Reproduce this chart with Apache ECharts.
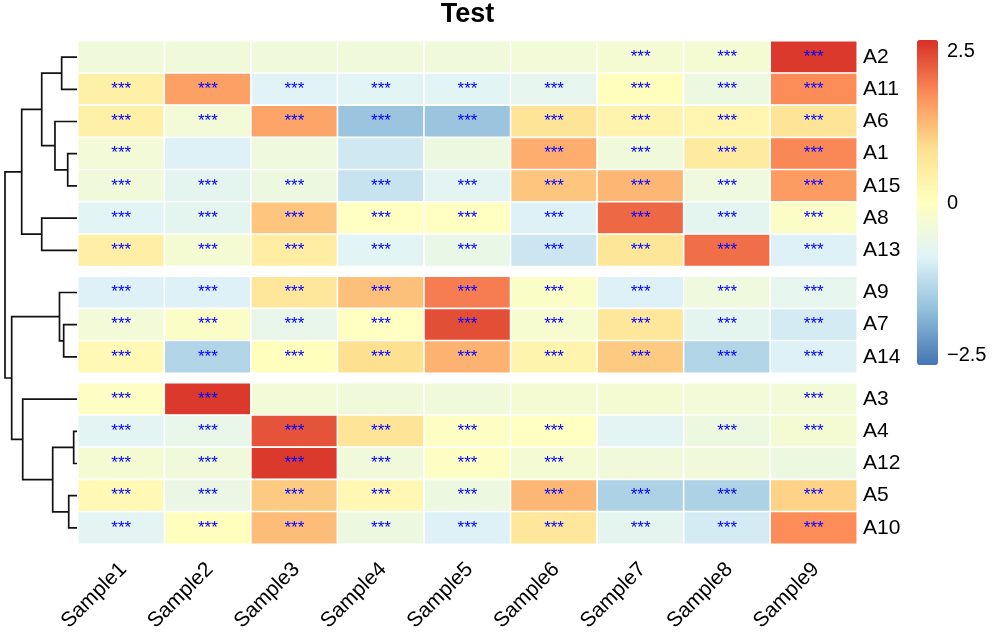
<!DOCTYPE html>
<html>
<head>
<meta charset="utf-8">
<script src="https://cdn.jsdelivr.net/npm/echarts@6/dist/echarts.min.js"></script>
<style>
html,body{margin:0;padding:0;background:#fff;}
#chart{width:999px;height:636px;}
</style>
</head>
<body>
<div id="chart"></div>
<script>
// ---------- data ----------
const samples = ['Sample1','Sample2','Sample3','Sample4','Sample5','Sample6','Sample7','Sample8','Sample9'];
const rowLabels = ['A2','A11','A6','A1','A15','A8','A13','A9','A7','A14','A3','A4','A12','A5','A10'];
const groupSizes = [7, 3, 5];
const values = [
  [-0.4, -0.4, -0.4, -0.4, -0.4, -0.35, -0.3, -0.3, 2.6],   // A2
  [0.45, 1.6, -0.85, -0.8, -0.8, -0.7, 0.05, -0.5, 1.8],    // A11
  [0.45, -0.35, 1.55, -1.65, -1.65, 0.8, 0.35, 0.3, 0.8],   // A6
  [-0.35, -0.9, -0.45, -1.05, -0.5, 1.45, -0.4, 0.6, 1.85], // A1
  [-0.4, -0.75, -0.5, -1.15, -0.78, 1.2, 1.35, -0.45, 1.65],// A15
  [-0.8, -0.75, 1.2, 0, 0, -0.9, 2.15, -0.75, -0.1],        // A8
  [0.5, -0.3, 0.55, -0.8, -0.6, -1.1, 0.75, 2.1, -0.9],     // A13
  [-0.9, -0.9, 0.7, 1.25, 1.95, -0.1, -0.9, -0.45, -0.7],   // A9
  [-0.35, -0.1, -0.65, 0, 2.4, -0.25, 0.7, -0.75, -1.0],    // A7
  [0.2, -1.4, 0.05, 0.9, 1.4, 0.35, 1.15, -1.4, -0.9],      // A14
  [-0.05, 2.6, -0.35, -0.4, -0.4, -0.3, -0.3, -0.35, -0.35],// A3
  [-0.78, -0.65, 2.35, 0.8, -0.05, 0, -0.78, -0.5, -0.3],   // A4
  [-0.3, -0.4, 2.6, -0.4, -0.05, -0.3, -0.4, -0.4, -0.5],   // A12
  [0.2, -0.55, 1.15, 0.25, -0.5, 1.35, -1.45, -1.45, 1.05], // A5
  [-0.78, 0.05, 1.3, -0.5, -0.9, 0.7, -0.75, -1.0, 1.8]     // A10
];
// significance marks ('1' = ***)
const stars = [
  '000000111', '111111111', '111111111', '100001111', '111111111',
  '111111111', '111111111', '111111111', '111111111', '111111111',
  '110000001', '111111011', '111111000', '111111111', '111111111'
];
// row dendrogram merges: [childA, childB, height]; 'nK' refers to merge K
const dendroMerges = [
  ['A2', 'A11', 2.13],
  ['A1', 'A15', 1.29],
  ['A6', 'n1', 3.06],
  ['n0', 'n2', 4.9],
  ['A8', 'A13', 4.9],
  ['n3', 'n4', 7.68],
  ['A7', 'A14', 1.85],
  ['A9', 'n6', 2.43],
  ['A4', 'A12', 0.46],
  ['A5', 'A10', 1.15],
  ['n8', 'n9', 3.375],
  ['A3', 'n10', 7.54],
  ['n7', 'n11', 9.07],
  ['n5', 'n12', 10]
];
const legendTicks = [-2.5, 0, 2.5];
const colorMin = -2.65, colorMax = 2.69;
const palette = ['#4575B4', '#91BFDB', '#E0F3F8', '#FFFFBF', '#FEE090', '#FC8D59', '#D73027'];

// ---------- layout ----------
const FONT = 'Liberation Sans, Arial, Helvetica, sans-serif';
const HM_LEFT = 78, HM_WIDTH = 779, HM_TOP = 41, GAP = 10;
const ROW_H = (503 - GAP * (groupSizes.length - 1)) / rowLabels.length;

const grids = [], xAxes = [], yAxes = [], series = [];
let rowStart = 0;
let curTop = HM_TOP;
const leafY = {};
groupSizes.forEach((n, g) => {
  const rows = rowLabels.slice(rowStart, rowStart + n);
  rows.forEach((r, i) => { leafY[r] = rowStart + i + 0.5 + g * GAP / ROW_H; });
  grids.push({ left: HM_LEFT, top: curTop, width: HM_WIDTH, height: n * ROW_H });
  const isLast = g === groupSizes.length - 1;
  xAxes.push({
    gridIndex: g, type: 'category', data: samples,
    axisLine: { show: false }, axisTick: { show: false }, splitLine: { show: false },
    axisLabel: isLast ? {
      show: true, interval: 0, rotate: 45, fontSize: 21, color: '#000', fontFamily: FONT,
      margin: 20, verticalAlign: 'top', lineHeight: 6
    } : { show: false }
  });
  yAxes.push({
    gridIndex: g, type: 'category', data: rows, inverse: true, position: 'right',
    axisLine: { show: false }, axisTick: { show: false }, splitLine: { show: false },
    axisLabel: { fontSize: 21, color: '#000', margin: 6, fontFamily: FONT }
  });
  const data = [];
  rows.forEach((r, i) => {
    const k = rowStart + i;
    samples.forEach((s, j) => {
      data.push([j, i, values[k][j], stars[k][j] === '1' ? 1 : 0]);
    });
  });
  series.push({
    type: 'heatmap', xAxisIndex: g, yAxisIndex: g, data: data,
    itemStyle: { borderColor: '#fff', borderWidth: 1.6 },
    label: {
      show: true, color: '#0000FF', fontSize: 17, fontFamily: FONT,
      formatter: p => (p.data[3] ? '***' : '')
    },
    emphasis: { disabled: true }
  });
  rowStart += n;
  curTop += n * ROW_H + GAP;
});

// dendrogram node positions
const nodes = [];
function childPos(c) {
  if (c[0] === 'n') { const nd = nodes[+c.slice(1)]; return { h: nd.h, y: nd.y }; }
  return { h: 0, y: leafY[c] };
}
dendroMerges.forEach(m => {
  const a = childPos(m[0]), b = childPos(m[1]);
  nodes.push({ a: a, b: b, h: m[2], y: (a.y + b.y) / 2 });
});
const totalUnits = rowLabels.length + (groupSizes.length - 1) * GAP / ROW_H;
const maxH = Math.max(...dendroMerges.map(m => m[2]));

// dendrogram grid (index 3)
grids.push({ left: 5, top: HM_TOP, width: HM_LEFT - 1 - 5, height: 503 });
xAxes.push({ gridIndex: 3, type: 'value', min: 0, max: maxH, inverse: true, show: false });
yAxes.push({ gridIndex: 3, type: 'value', min: 0, max: totalUnits, inverse: true, show: false });
series.push({
  type: 'custom', xAxisIndex: 3, yAxisIndex: 3,
  data: dendroMerges.map((m, i) => [m[2], i]),
  silent: true,
  renderItem: function (params, api) {
    const nd = nodes[api.value(1)];
    const pts = [
      api.coord([nd.a.h, nd.a.y]),
      api.coord([nd.h, nd.a.y]),
      api.coord([nd.h, nd.b.y]),
      api.coord([nd.b.h, nd.b.y])
    ];
    return { type: 'polyline', shape: { points: pts }, style: { stroke: '#111', lineWidth: 1.7, fill: null } };
  }
});

// legend axis grid (index 4)
grids.push({ left: 917, top: 40, width: 21, height: 325 });
xAxes.push({ gridIndex: 4, type: 'value', show: false });
yAxes.push({
  gridIndex: 4, type: 'value', min: colorMin, max: colorMax, position: 'right',
  axisLine: { show: false }, axisTick: { show: false }, splitLine: { show: false },
  axisLabel: {
    customValues: legendTicks, fontSize: 20, color: '#000', margin: 9, fontFamily: FONT,
    formatter: v => (v < 0 ? '\u2212' + Math.abs(v) : String(v))
  }
});

const chart = echarts.init(document.getElementById('chart'), null, { renderer: 'canvas' });
chart.setOption({
  animation: false,
  backgroundColor: '#fff',
  title: {
    text: 'Test', left: HM_LEFT + HM_WIDTH / 2, textAlign: 'center', top: 0, padding: 0,
    textStyle: { fontSize: 27, fontWeight: 'bold', color: '#000', fontFamily: FONT, lineHeight: 30 }
  },
  grid: grids,
  xAxis: xAxes,
  yAxis: yAxes,
  visualMap: {
    type: 'continuous', min: colorMin, max: colorMax, calculable: false, dimension: 2,
    seriesIndex: [0, 1, 2], left: 917, top: 40, itemWidth: 21, itemHeight: 325,
    padding: 0, inRange: { color: palette }, hoverLink: false
  },
  series: series
});
</script>
</body>
</html>
